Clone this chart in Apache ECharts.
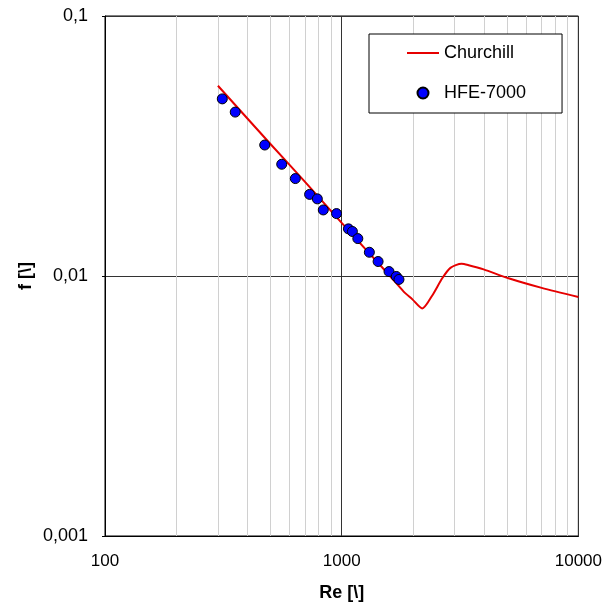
<!DOCTYPE html>
<html>
<head>
<meta charset="utf-8">
<script src="https://cdn.jsdelivr.net/npm/echarts@6/dist/echarts.min.js"></script>
<style>
html,body{margin:0;padding:0;background:#fff;}
#chart{width:605px;height:607px;}
</style>
</head>
<body>
<div id="chart"></div>
<script>
// Churchill correlation curve
var churchillRe = [300, 500, 700, 1000, 1300, 1600, 1820, 1990, 2190, 2410, 2660, 2880, 3210, 3440, 3980, 5070, 7000, 10000];
var churchillF  = [0.0539, 0.0322, 0.0230, 0.0160, 0.0123, 0.0100, 0.00875, 0.00813, 0.0075, 0.0084, 0.0098, 0.01075, 0.01114, 0.0110, 0.0106, 0.0098, 0.0090, 0.0083];

var hfeRe = [313, 355, 473, 558, 637, 732, 789, 836, 951, 1068, 1110, 1170, 1309, 1425, 1585, 1701, 1746];
var hfeF  = [0.0480, 0.0427, 0.0319, 0.0269, 0.0237, 0.0206, 0.0198, 0.01795, 0.01738, 0.01518, 0.01483, 0.01393, 0.01234, 0.01137, 0.0104, 0.00996, 0.0097];

// axis tick labels
var xTickLabels = {2: '100', 3: '1000', 4: '10000'};
var yTickLabels = {'-1': '0,1', '-2': '0,01', '-3': '0,001'};
// minor vertical gridline positions
var xMinorGrid = [200, 300, 400, 500, 600, 700, 800, 900, 2000, 3000, 4000, 5000, 6000, 7000, 8000, 9000];

var chart = echarts.init(document.getElementById('chart'));
var font = 'Liberation Sans, Arial, sans-serif';

chart.setOption({
  animation: false,
  backgroundColor: '#fff',
  grid: {left: 105, top: 16, right: 25, bottom: 70, show: true, borderColor: '#000', borderWidth: 1},
  legend: {
    orient: 'vertical',
    left: 369, top: 34,
    padding: [10, 36, 11, 38],
    itemGap: 22,
    itemWidth: 32, itemHeight: 11,
    backgroundColor: '#fff',
    borderColor: '#000', borderWidth: 1,
    textStyle: {fontFamily: font, fontSize: 18, color: '#000'},
    data: [
      {name: 'Churchill', icon: 'path://M0,0 L32,0 L32,2 L0,2 Z'},
      {name: 'HFE-7000', icon: 'circle'}
    ]
  },
  xAxis: {
    type: 'log', logBase: 10, min: 100, max: 10000,
    name: 'Re [\\]', nameLocation: 'middle', nameGap: 48,
    nameMoveOverlap: false,
    nameTextStyle: {fontFamily: font, fontSize: 18, fontWeight: 'bold', color: '#000'},
    axisLine: {show: true, lineStyle: {color: '#000', width: 1}},
    axisTick: {show: false},
    axisLabel: {fontFamily: font, fontSize: 17, color: '#000', margin: 17,
      formatter: function (v) { return xTickLabels[Math.round(Math.log10(v))] || ''; }},
    splitLine: {show: true, lineStyle: {color: '#333', width: 1}}
  },
  yAxis: {
    type: 'log', logBase: 10, min: 0.001, max: 0.1,
    name: 'f [\\]', nameLocation: 'middle', nameGap: 70,
    nameMoveOverlap: false,
    nameTextStyle: {fontFamily: font, fontSize: 18, fontWeight: 'bold', color: '#000'},
    axisLine: {show: true, lineStyle: {color: '#000', width: 1}},
    axisTick: {show: true, length: 3, lineStyle: {color: '#000'}},
    axisLabel: {fontFamily: font, fontSize: 18, color: '#000', margin: 17,
      formatter: function (v) { return yTickLabels[String(Math.round(Math.log10(v)))] || ''; }},
    splitLine: {show: true, lineStyle: {color: '#333', width: 1}}
  },
  series: [
    {
      name: 'grid-minor', type: 'line', data: [], z: 1, silent: true,
      markLine: {
        silent: true, symbol: 'none', animation: false, z: 1,
        label: {show: false},
        lineStyle: {color: '#d0d0d0', width: 1, type: 'solid'},
        emphasis: {disabled: true},
        data: xMinorGrid.map(function (v) { return {xAxis: v}; })
      }
    },
    {
      name: 'Churchill', type: 'line', z: 3,
      data: churchillRe.map(function (r, i) { return [r, churchillF[i]]; }),
      symbol: 'none', smooth: 0.25,
      lineStyle: {color: '#e60000', width: 2},
      itemStyle: {color: '#e60000'}
    },
    {
      name: 'HFE-7000', type: 'scatter', z: 4,
      data: hfeRe.map(function (r, i) { return [r, hfeF[i]]; }),
      symbol: 'circle', symbolSize: 10,
      itemStyle: {color: '#0000ff', borderColor: '#000', borderWidth: 1, opacity: 1}
    }
  ]
});
</script>
</body>
</html>
